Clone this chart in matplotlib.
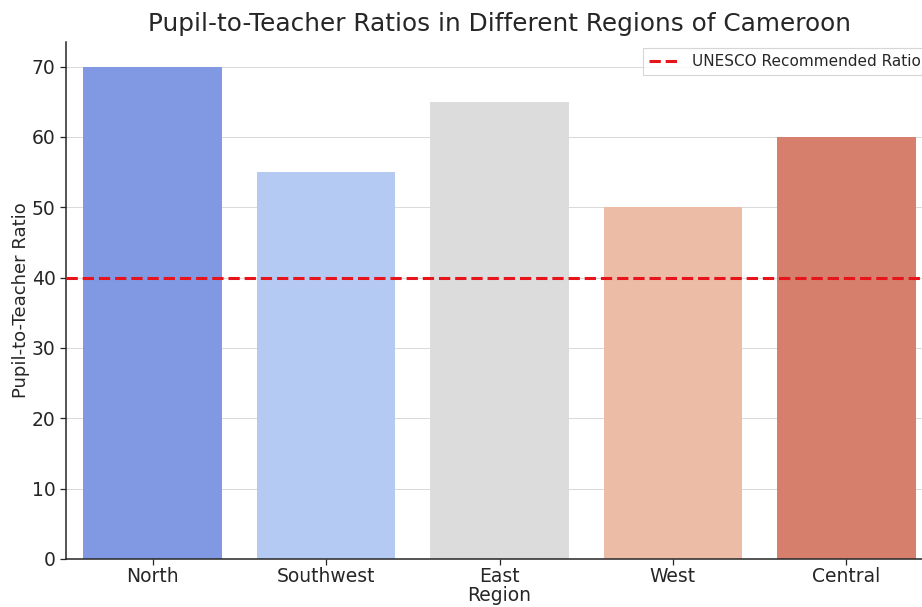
import matplotlib
matplotlib.use("Agg")
import matplotlib.pyplot as plt
import seaborn as sns

regions = ["North", "Southwest", "East", "West", "Central"]
ratios = [70, 55, 65, 50, 60]
unesco_ratio = 40

colors = [sns.desaturate(c, 0.75) for c in sns.color_palette("coolwarm", len(regions))]

fig = plt.figure(figsize=(9.22, 6.07), dpi=100)
# the reference is cropped on the right, so the axes runs past the figure edge
ax = fig.add_axes([66 / 922, 48 / 607, 867 / 922, 517 / 607])

x = range(len(regions))
ax.bar(x, ratios, width=0.8, color=colors, zorder=2)
ax.axhline(unesco_ratio, color="#e8141c", linestyle="--", linewidth=2.2,
           label="UNESCO Recommended Ratio", zorder=3)

ax.set_xlim(-0.5, len(regions) - 0.5)
ax.set_ylim(0, max(ratios) * 1.05)
ax.set_xticks(list(x))
ax.set_xticklabels(regions)
ax.set_yticks(range(0, 71, 10))
ax.tick_params(labelsize=13.5, colors="#262626", length=4, width=0.9)
ax.tick_params(axis="x", pad=1.5)

ax.yaxis.grid(True, color="#d9d9d9", linewidth=0.7, zorder=0)
ax.set_axisbelow(True)
for side in ["top", "right"]:
    ax.spines[side].set_visible(False)
for side in ["left", "bottom"]:
    ax.spines[side].set_color("#262626")
    ax.spines[side].set_linewidth(1.1)

ax.set_title("Pupil-to-Teacher Ratios in Different Regions of Cameroon",
             fontsize=17.8, color="#262626", pad=8)
ax.set_xlabel("Region", fontsize=13.5, color="#262626", labelpad=0)
ax.set_ylabel("Pupil-to-Teacher Ratio", fontsize=13, color="#262626", labelpad=1)

leg = ax.legend(loc="upper right", fontsize=11, frameon=True, fancybox=False,
                borderaxespad=0.4)
leg.get_frame().set_edgecolor("#cccccc")
leg.get_frame().set_linewidth(0.8)
for t in leg.get_texts():
    t.set_color("#262626")

fig.savefig("out.png", dpi=100)
